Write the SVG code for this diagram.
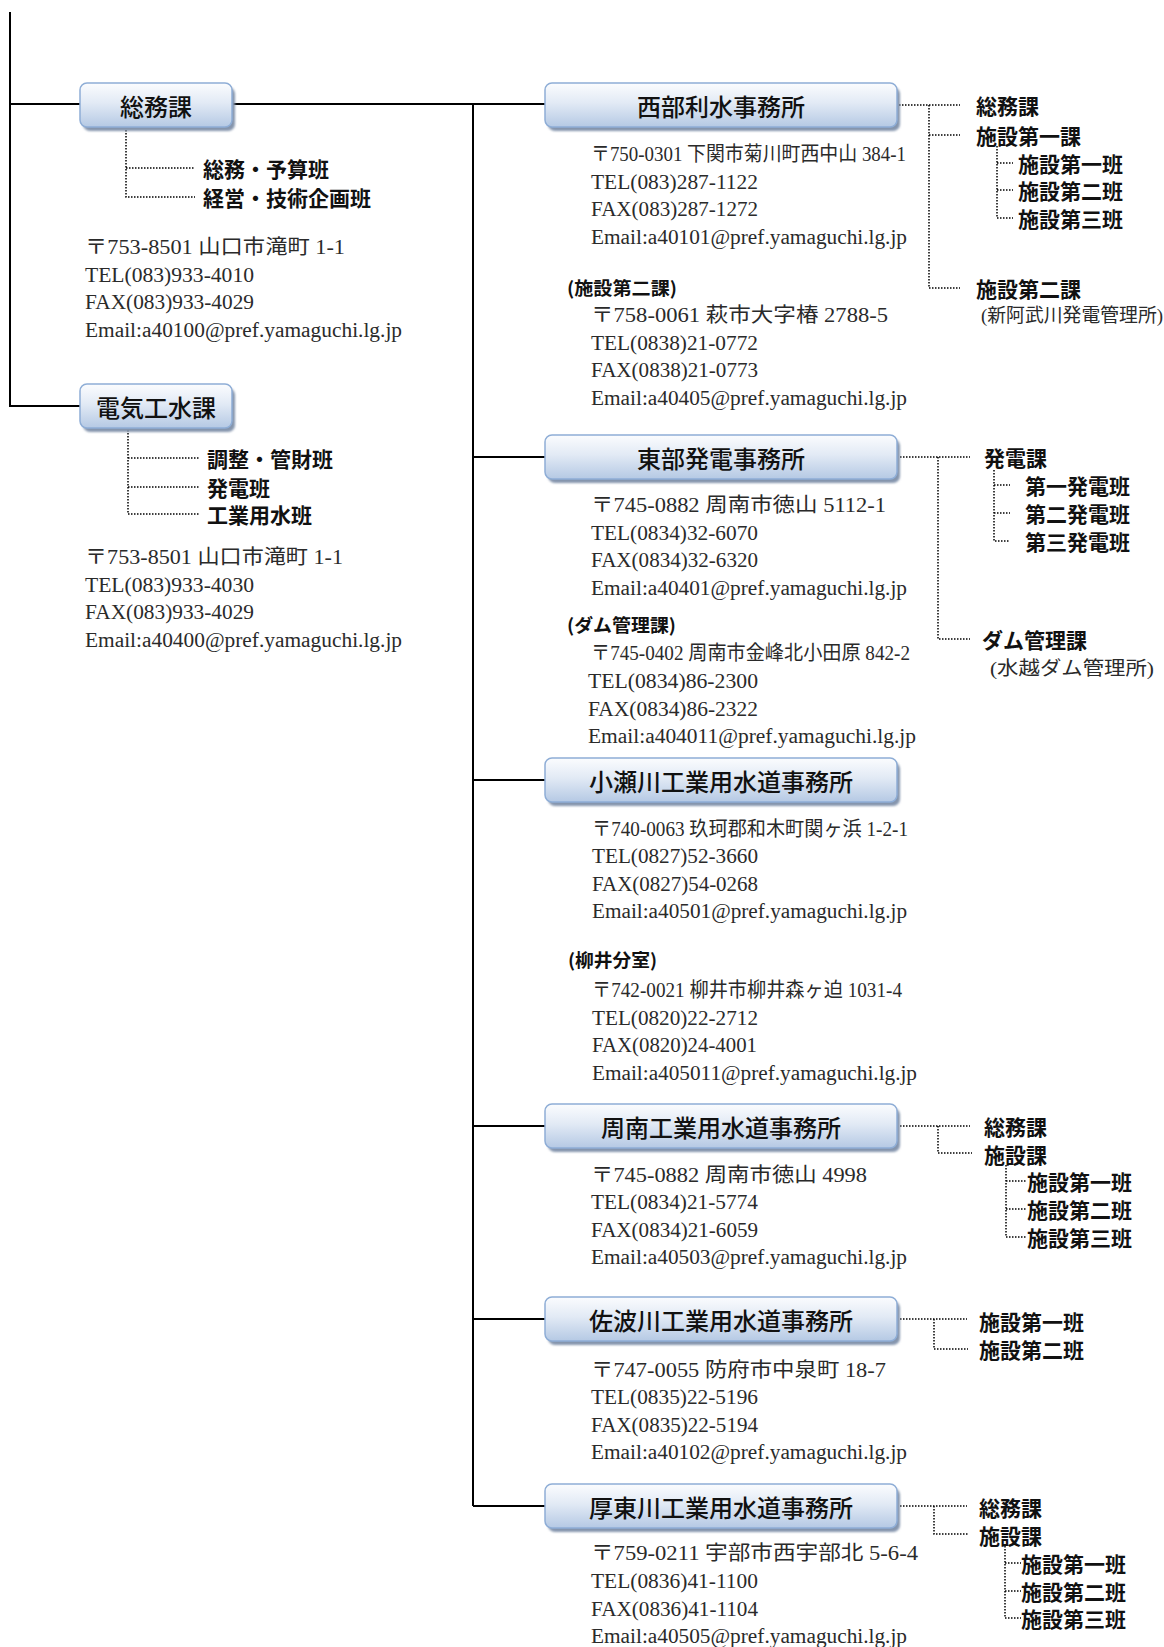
<svg xmlns="http://www.w3.org/2000/svg" width="1164" height="1647" viewBox="0 0 1164 1647">
<defs>
<linearGradient id="boxg" x1="0" y1="0" x2="0" y2="1">
<stop offset="0" stop-color="#fbfcfe"/>
<stop offset="0.45" stop-color="#e2eaf5"/>
<stop offset="1" stop-color="#b5c9e4"/>
</linearGradient>
<filter id="blur" x="-5%" y="-20%" width="110%" height="140%"><feGaussianBlur stdDeviation="1"/></filter>
</defs>
<style>
.sh{fill:#8595ad;filter:url(#blur)}
.bx{fill:url(#boxg);stroke:#8eadd6;stroke-width:1.5}
.bt{font-family:'Noto Sans CJK JP',sans-serif;font-size:24px;font-weight:500;fill:#111;text-anchor:middle;dominant-baseline:central}
.lb{font-family:'Noto Sans CJK JP',sans-serif;font-size:21px;font-weight:700;fill:#111;dominant-baseline:central}
.pl{font-family:'Noto Sans CJK JP',sans-serif;font-size:18px;font-weight:700;fill:#111}
.ad{font-family:'Liberation Serif','Noto Sans CJK JP',serif;font-size:20px;fill:#2a2a2a}
.sm{font-family:'Liberation Serif','Noto Sans CJK JP',serif;font-size:19px;fill:#2a2a2a}
.solid{fill:none;stroke:#000;stroke-width:2}
.dot{fill:none;stroke:#000;stroke-width:1.5;stroke-dasharray:1.5 1.5}
</style>
<rect width="1164" height="1647" fill="#fff"/>

<g id="connectors">
<path class="solid" d="M10,12 V406 H80"/>
<path class="solid" d="M10,104 H80"/>
<path class="solid" d="M232,104 H545"/>
<path class="solid" d="M473,104 V1506"/>
<path class="solid" d="M473,457 H545"/>
<path class="solid" d="M473,780 H545"/>
<path class="solid" d="M473,1126 H545"/>
<path class="solid" d="M473,1319 H545"/>
<path class="solid" d="M473,1506 H545"/>

<path class="dot" d="M126,130 V197 H195 M126,168 H195"/>
<path class="dot" d="M128,430 V514 H200 M128,458 H200 M128,487 H200"/>

<path class="dot" d="M899,105 H960 M929,105 V288 H960 M929,135 H960"/>
<path class="dot" d="M997,146 V218 H1013 M997,163 H1013 M997,190 H1013"/>

<path class="dot" d="M900,457 H970 M938,457 V639 H970"/>
<path class="dot" d="M994,470 V541 H1010 M994,485 H1010 M994,513 H1010"/>

<path class="dot" d="M900,1126 H970 M938,1126 V1153 H972"/>
<path class="dot" d="M1006,1165 V1237 H1026 M1006,1181 H1026 M1006,1209 H1026"/>

<path class="dot" d="M900,1319 H967 M934,1319 V1349 H968"/>

<path class="dot" d="M900,1506 H967 M934,1506 V1534 H968"/>
<path class="dot" d="M1005,1546 V1618 H1021 M1005,1563 H1021 M1005,1591 H1021"/>
</g>

<g id="node-somuka">
<rect class="sh" x="83" y="87" width="152" height="44" rx="7"/>
<rect class="bx" x="80" y="83" width="152" height="44" rx="7"/>
<text class="bt" x="156" y="105">総務課</text>
</g>
<g id="somuka-sub">
<text class="lb" x="203" y="168">総務・予算班</text>
<text class="lb" x="203" y="197">経営・技術企画班</text>
</g>
<g id="somuka-addr" class="ad">
<text x="85" y="254" textLength="260" lengthAdjust="spacingAndGlyphs">〒753-8501 山口市滝町 1-1</text>
<text x="85" y="282" textLength="169" lengthAdjust="spacingAndGlyphs">TEL(083)933-4010</text>
<text x="85" y="309" textLength="169" lengthAdjust="spacingAndGlyphs">FAX(083)933-4029</text>
<text x="85" y="337" textLength="317" lengthAdjust="spacingAndGlyphs">Email:a40100@pref.yamaguchi.lg.jp</text>
</g>

<g id="node-denki">
<rect class="sh" x="83" y="388" width="152" height="44" rx="7"/>
<rect class="bx" x="80" y="384" width="152" height="44" rx="7"/>
<text class="bt" x="156" y="406">電気工水課</text>
</g>
<g id="denki-sub">
<text class="lb" x="207" y="458">調整・管財班</text>
<text class="lb" x="207" y="487">発電班</text>
<text class="lb" x="207" y="514">工業用水班</text>
</g>
<g id="denki-addr" class="ad">
<text x="85" y="564" textLength="258" lengthAdjust="spacingAndGlyphs">〒753-8501 山口市滝町 1-1</text>
<text x="85" y="592" textLength="169" lengthAdjust="spacingAndGlyphs">TEL(083)933-4030</text>
<text x="85" y="619" textLength="169" lengthAdjust="spacingAndGlyphs">FAX(083)933-4029</text>
<text x="85" y="647" textLength="317" lengthAdjust="spacingAndGlyphs">Email:a40400@pref.yamaguchi.lg.jp</text>
</g>

<g id="node-seibu">
<rect class="sh" x="548" y="87" width="352" height="44" rx="7"/>
<rect class="bx" x="545" y="83" width="352" height="44" rx="7"/>
<text class="bt" x="721" y="105">西部利水事務所</text>
</g>
<g id="seibu-sub">
<text class="lb" x="976" y="105">総務課</text>
<text class="lb" x="976" y="135">施設第一課</text>
<text class="lb" x="1018" y="163">施設第一班</text>
<text class="lb" x="1018" y="190">施設第二班</text>
<text class="lb" x="1018" y="218">施設第三班</text>
<text class="lb" x="976" y="288">施設第二課</text>
<text class="sm" x="981" y="322" textLength="182" lengthAdjust="spacingAndGlyphs">(新阿武川発電管理所)</text>
</g>
<g id="seibu-addr" class="ad">
<text x="591" y="161" textLength="315" lengthAdjust="spacingAndGlyphs">〒750-0301 下関市菊川町西中山 384-1</text>
<text x="591" y="189" textLength="167" lengthAdjust="spacingAndGlyphs">TEL(083)287-1122</text>
<text x="591" y="216" textLength="167" lengthAdjust="spacingAndGlyphs">FAX(083)287-1272</text>
<text x="591" y="244" textLength="316" lengthAdjust="spacingAndGlyphs">Email:a40101@pref.yamaguchi.lg.jp</text>
<text class="pl" x="567" y="295" textLength="110" lengthAdjust="spacingAndGlyphs">(施設第二課)</text>
<text x="591" y="322" textLength="297" lengthAdjust="spacingAndGlyphs">〒758-0061 萩市大字椿 2788-5</text>
<text x="591" y="350" textLength="167" lengthAdjust="spacingAndGlyphs">TEL(0838)21-0772</text>
<text x="591" y="377" textLength="167" lengthAdjust="spacingAndGlyphs">FAX(0838)21-0773</text>
<text x="591" y="405" textLength="316" lengthAdjust="spacingAndGlyphs">Email:a40405@pref.yamaguchi.lg.jp</text>
</g>

<g id="node-tobu">
<rect class="sh" x="548" y="439" width="352" height="44" rx="7"/>
<rect class="bx" x="545" y="435" width="352" height="44" rx="7"/>
<text class="bt" x="721" y="457">東部発電事務所</text>
</g>
<g id="tobu-sub">
<text class="lb" x="984" y="457">発電課</text>
<text class="lb" x="1025" y="485">第一発電班</text>
<text class="lb" x="1025" y="513">第二発電班</text>
<text class="lb" x="1025" y="541">第三発電班</text>
<text class="lb" x="982" y="639">ダム管理課</text>
<text class="sm" x="990" y="675" textLength="164" lengthAdjust="spacingAndGlyphs">(水越ダム管理所)</text>
</g>
<g id="tobu-addr" class="ad">
<text x="591" y="512" textLength="295" lengthAdjust="spacingAndGlyphs">〒745-0882 周南市徳山 5112-1</text>
<text x="591" y="540" textLength="167" lengthAdjust="spacingAndGlyphs">TEL(0834)32-6070</text>
<text x="591" y="567" textLength="167" lengthAdjust="spacingAndGlyphs">FAX(0834)32-6320</text>
<text x="591" y="595" textLength="316" lengthAdjust="spacingAndGlyphs">Email:a40401@pref.yamaguchi.lg.jp</text>
<text class="pl" x="567" y="632" textLength="109" lengthAdjust="spacingAndGlyphs">(ダム管理課)</text>
<text x="591" y="660" textLength="319" lengthAdjust="spacingAndGlyphs">〒745-0402 周南市金峰北小田原 842-2</text>
<text x="588" y="688" textLength="170" lengthAdjust="spacingAndGlyphs">TEL(0834)86-2300</text>
<text x="588" y="716" textLength="170" lengthAdjust="spacingAndGlyphs">FAX(0834)86-2322</text>
<text x="588" y="743" textLength="328" lengthAdjust="spacingAndGlyphs">Email:a404011@pref.yamaguchi.lg.jp</text>
</g>

<g id="node-koze">
<rect class="sh" x="548" y="762" width="352" height="44" rx="7"/>
<rect class="bx" x="545" y="758" width="352" height="44" rx="7"/>
<text class="bt" x="721" y="780">小瀬川工業用水道事務所</text>
</g>
<g id="koze-addr" class="ad">
<text x="592" y="836" textLength="316" lengthAdjust="spacingAndGlyphs">〒740-0063 玖珂郡和木町関ヶ浜 1-2-1</text>
<text x="592" y="863" textLength="166" lengthAdjust="spacingAndGlyphs">TEL(0827)52-3660</text>
<text x="592" y="891" textLength="166" lengthAdjust="spacingAndGlyphs">FAX(0827)54-0268</text>
<text x="592" y="918" textLength="315" lengthAdjust="spacingAndGlyphs">Email:a40501@pref.yamaguchi.lg.jp</text>
<text class="pl" x="568" y="967" textLength="89" lengthAdjust="spacingAndGlyphs">(柳井分室)</text>
<text x="592" y="997" textLength="310" lengthAdjust="spacingAndGlyphs">〒742-0021 柳井市柳井森ヶ迫 1031-4</text>
<text x="592" y="1025" textLength="166" lengthAdjust="spacingAndGlyphs">TEL(0820)22-2712</text>
<text x="592" y="1052" textLength="165" lengthAdjust="spacingAndGlyphs">FAX(0820)24-4001</text>
<text x="592" y="1080" textLength="325" lengthAdjust="spacingAndGlyphs">Email:a405011@pref.yamaguchi.lg.jp</text>
</g>

<g id="node-shunan">
<rect class="sh" x="548" y="1108" width="352" height="44" rx="7"/>
<rect class="bx" x="545" y="1104" width="352" height="44" rx="7"/>
<text class="bt" x="721" y="1126">周南工業用水道事務所</text>
</g>
<g id="shunan-sub">
<text class="lb" x="984" y="1126">総務課</text>
<text class="lb" x="984" y="1154">施設課</text>
<text class="lb" x="1027" y="1181">施設第一班</text>
<text class="lb" x="1027" y="1209">施設第二班</text>
<text class="lb" x="1027" y="1237">施設第三班</text>
</g>
<g id="shunan-addr" class="ad">
<text x="591" y="1182" textLength="276" lengthAdjust="spacingAndGlyphs">〒745-0882 周南市徳山 4998</text>
<text x="591" y="1209" textLength="167" lengthAdjust="spacingAndGlyphs">TEL(0834)21-5774</text>
<text x="591" y="1237" textLength="167" lengthAdjust="spacingAndGlyphs">FAX(0834)21-6059</text>
<text x="591" y="1264" textLength="316" lengthAdjust="spacingAndGlyphs">Email:a40503@pref.yamaguchi.lg.jp</text>
</g>

<g id="node-saba">
<rect class="sh" x="548" y="1301" width="352" height="44" rx="7"/>
<rect class="bx" x="545" y="1297" width="352" height="44" rx="7"/>
<text class="bt" x="721" y="1319">佐波川工業用水道事務所</text>
</g>
<g id="saba-sub">
<text class="lb" x="979" y="1321">施設第一班</text>
<text class="lb" x="979" y="1349">施設第二班</text>
</g>
<g id="saba-addr" class="ad">
<text x="591" y="1377" textLength="295" lengthAdjust="spacingAndGlyphs">〒747-0055 防府市中泉町 18-7</text>
<text x="591" y="1404" textLength="167" lengthAdjust="spacingAndGlyphs">TEL(0835)22-5196</text>
<text x="591" y="1432" textLength="167" lengthAdjust="spacingAndGlyphs">FAX(0835)22-5194</text>
<text x="591" y="1459" textLength="316" lengthAdjust="spacingAndGlyphs">Email:a40102@pref.yamaguchi.lg.jp</text>
</g>

<g id="node-koto">
<rect class="sh" x="548" y="1488" width="352" height="44" rx="7"/>
<rect class="bx" x="545" y="1484" width="352" height="44" rx="7"/>
<text class="bt" x="721" y="1506">厚東川工業用水道事務所</text>
</g>
<g id="koto-sub">
<text class="lb" x="979" y="1507">総務課</text>
<text class="lb" x="979" y="1535">施設課</text>
<text class="lb" x="1021" y="1563">施設第一班</text>
<text class="lb" x="1021" y="1591">施設第二班</text>
<text class="lb" x="1021" y="1618">施設第三班</text>
</g>
<g id="koto-addr" class="ad">
<text x="591" y="1560" textLength="327" lengthAdjust="spacingAndGlyphs">〒759-0211 宇部市西宇部北 5-6-4</text>
<text x="591" y="1588" textLength="167" lengthAdjust="spacingAndGlyphs">TEL(0836)41-1100</text>
<text x="591" y="1616" textLength="167" lengthAdjust="spacingAndGlyphs">FAX(0836)41-1104</text>
<text x="591" y="1643" textLength="316" lengthAdjust="spacingAndGlyphs">Email:a40505@pref.yamaguchi.lg.jp</text>
</g>
</svg>
